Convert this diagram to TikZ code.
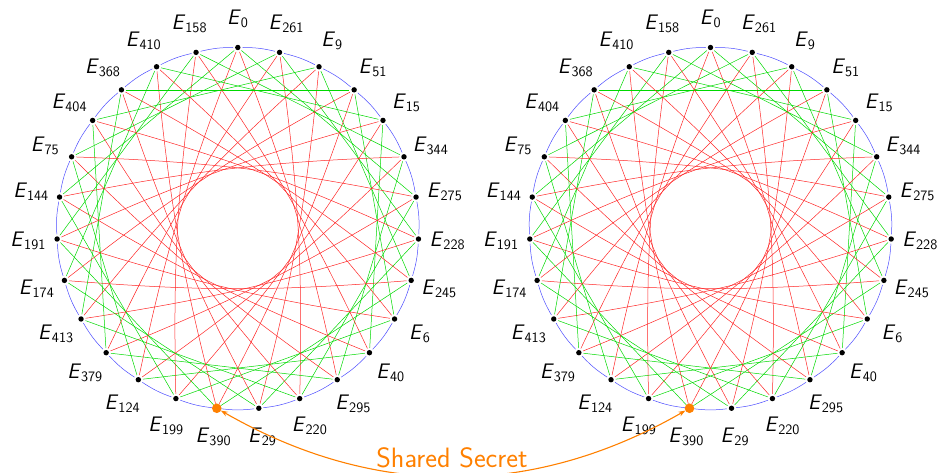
\documentclass[tikz,border=0pt]{standalone}
\usetikzlibrary{arrows.meta}
\newcommand\elab[1]{\textsf{\textit{E}}$_{\mathsf{#1}}$}
\tikzset{
  dotnode/.style={circle, inner sep=0pt, minimum size=9pt},
  labnode/.style={inner sep=0pt, font=\fontsize{21}{25}\selectfont},
  blueedge/.style={blue!70, line width=0.5pt},
  greenedge/.style={green!85!black, line width=0.5pt},
  rededge/.style={red!85, line width=0.5pt},
  secret/.style={orange, line width=1.1pt},
}
\begin{document}
\begin{tikzpicture}[x=1pt,y=1pt]
\useasboundingbox (0,0) rectangle (943,473);
\foreach \p/\cx in {L/237.8, R/710.5} {
  \begin{scope}[shift={(\cx,244.5)}]
    \foreach \n [count=\i from 0] in {0,261,9,51,15,344,275,228,245,6,40,295,220,29,390,199,124,379,413,174,191,144,75,404,368,410,158} {
      \pgfmathsetmacro\ang{90-\i*360/27}
      \node[dotnode] (\p\i) at (\ang:181) {};
      \node[labnode] (\p lab\i) at (\ang:210) {\elab{\n}};
    }
  \end{scope}
  \foreach \i in {0,...,26} {
    \pgfmathtruncatemacro\a{mod(\i+1,27)}
    \pgfmathtruncatemacro\b{mod(\i+6,27)}
    \pgfmathtruncatemacro\c{mod(\i+11,27)}
    \draw[blueedge] (\p\i) to[bend left=6.67] (\p\a);
    \draw[greenedge] (\p\i) -- (\p\b);
    \draw[rededge] (\p\i) to[bend left=4.6] (\p\c);
  }
  \foreach \i in {0,...,13,15,16,...,26} {
    \fill (\p\i) circle (2.7pt);
  }
  \fill[orange] (\p14) circle (4.8pt);
}
\draw[secret, {Stealth[length=7pt,width=5pt]}-{Stealth[length=7pt,width=5pt]}] (L14) .. controls +(157.5,-90.3) and +(-157.5,-90.3) .. (R14);
\node[text=orange, inner sep=0pt, font=\sffamily\fontsize{28}{33}\selectfont] (ss) at (452,15) {Shared Secret};
\end{tikzpicture}
\end{document}
